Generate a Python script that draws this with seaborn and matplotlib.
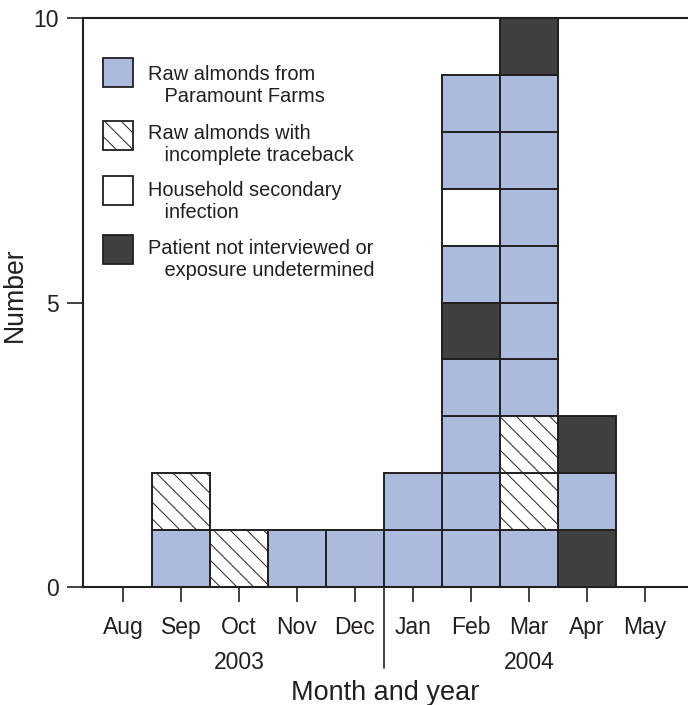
import pandas as pd
import matplotlib.pyplot as plt
import matplotlib.transforms as mtransforms
from matplotlib.patches import Rectangle
import seaborn as sns

# ==========================================
# data: cases per month, stacked from the bottom up
# P = Paramount Farms, T = incomplete traceback,
# H = household secondary, U = undetermined
# ==========================================
months = ["Aug", "Sep", "Oct", "Nov", "Dec", "Jan", "Feb", "Mar", "Apr", "May"]
aug = []
sep = ["P", "T"]
oct_ = ["T"]
nov = ["P"]
dec = ["P"]
jan = ["P", "P"]
feb = ["P", "P", "P", "P", "U", "P", "H", "P", "P"]
mar = ["P", "T", "T", "P", "P", "P", "P", "P", "P", "U"]
apr = ["U", "P", "U"]
may = []
stacks = [aug, sep, oct_, nov, dec, jan, feb, mar, apr, may]

years = ["2003", "2004"]
year_mid_months = ["Oct", "Mar"]

categories = ["P", "T", "H", "U"]
legend_labels = [
    "Raw almonds from\n   Paramount Farms",
    "Raw almonds with\n   incomplete traceback",
    "Household secondary\n   infection",
    "Patient not interviewed or\n   exposure undetermined",
]
y_ticks = [0, 5, 10]

# one row per case
rows = []
for i, stack in enumerate(stacks):
    for level, cat in enumerate(stack):
        rows.append({"month": i, "level": level, "category": cat})
df = pd.DataFrame(rows)

# ==========================================
# style
# ==========================================
sns.set_style("ticks")
plt.rcParams["font.family"] = ["Liberation Sans", "DejaVu Sans"]
plt.rcParams["hatch.linewidth"] = 0.7

INK = "#231f20"
fills = {"P": "#abbbde", "T": "white", "H": "white", "U": "#404040"}
hatches = {"P": None, "T": "\\\\", "H": None, "U": None}

fig = plt.figure(figsize=(6.88, 7.05), dpi=100)
ax = fig.add_axes([83 / 688, 1 - 587 / 705, 1 - 83 / 688, (587 - 18) / 705])

for cat in categories:
    sub = df[df["category"] == cat]
    ax.bar(sub["month"], 1, bottom=sub["level"], width=1.0,
           color=fills[cat], hatch=hatches[cat], edgecolor=INK, linewidth=1.4)

ax.set_xlim((83 - 123) / 58, (688 - 123) / 58)
ax.set_ylim(0, 10)
ax.set_xticks(range(len(months)), months)
ax.set_yticks(y_ticks)

for side in ["left", "top", "bottom"]:
    ax.spines[side].set_linewidth(1.5)
    ax.spines[side].set_color(INK)
ax.spines["right"].set_visible(False)

ax.tick_params(axis="y", length=11.5, width=1.2, pad=6, labelsize=16.5, colors=INK)
ax.tick_params(axis="x", length=10.8, width=1.2, pad=10, labelsize=16.5, colors=INK)

ax.set_ylabel("Number", fontsize=19.2, color=INK)
ax.yaxis.set_label_coords(-0.091, 0.514)
ax.set_xlabel("Month and year", fontsize=19.5, color=INK)
ax.xaxis.set_label_coords(0.5, -0.163)

# years and the divider between them
trans = mtransforms.blended_transform_factory(ax.transData, ax.transAxes)
for yr, m in zip(years, year_mid_months):
    ax.text(months.index(m), -0.132, yr, ha="center", va="center",
            transform=trans, fontsize=16.5, color=INK)
ax.plot([4.5, 4.5], [0, -0.142], transform=trans, clip_on=False,
        color=INK, linewidth=1.2)

# legend drawn by hand (baselines are those of the second line)
patch_tops = [58, 121, 176, 235]
text_baselines = [102, 161, 218, 276]
for cat, label, top, base in zip(categories, legend_labels, patch_tops, text_baselines):
    fig.add_artist(Rectangle((103 / 688, 1 - (top + 29) / 705), 30 / 688, 29 / 705,
                             transform=fig.transFigure, facecolor=fills[cat],
                             hatch=hatches[cat], edgecolor=INK, linewidth=1.3))
    fig.text(148 / 688, 1 - base / 705, label, ha="left", va="baseline",
             fontsize=14.4, color=INK, linespacing=1.2)

plt.savefig("out.png", dpi=100)
